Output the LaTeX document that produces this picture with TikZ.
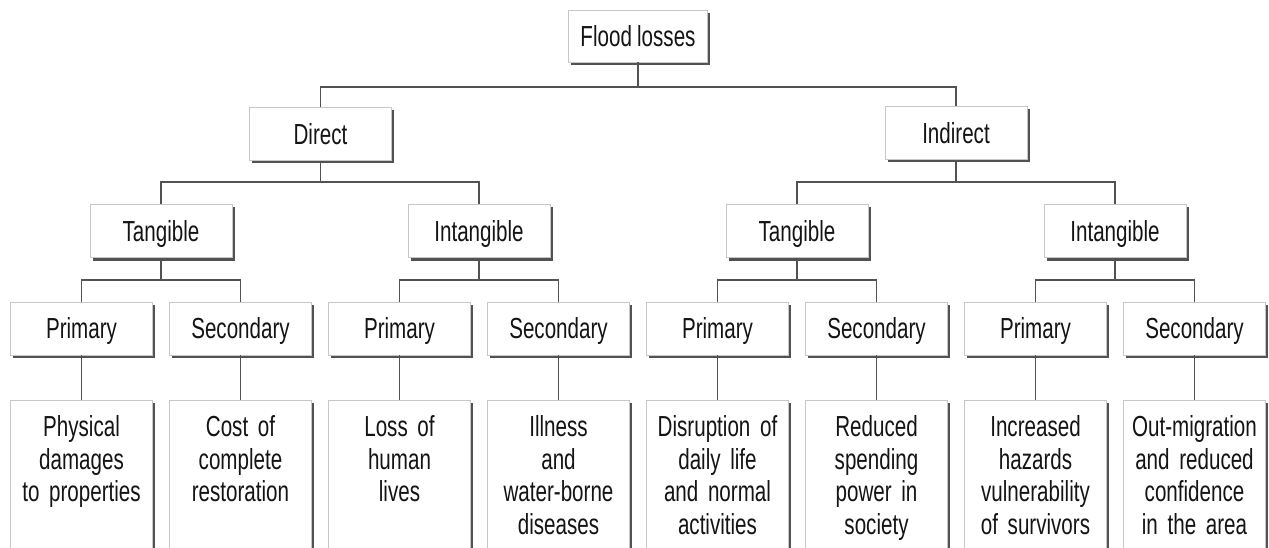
\documentclass[tikz,border=0pt]{standalone}
\usepackage{fontspec}
\setmainfont[FakeStretch=0.71, WordSpace=0.9]{Liberation Sans}
\usetikzlibrary{shadows}
\begin{document}
\begin{tikzpicture}[x=1pt,y=-1pt,
  box/.style={draw=black!22, line width=0.7pt, fill=white,
    drop shadow={shadow xshift=2.6pt, shadow yshift=-3pt, fill=black!68, opacity=1},
    font=\fontsize{29}{32.5}\selectfont, text=black!92},
  cat/.style={box, minimum width=142pt, minimum height=53pt, inner sep=0pt,
    text height=20.5pt, text depth=0pt},
  leaf/.style={box, anchor=north, text width=138pt, align=center, inner xsep=2pt,
    inner ysep=17pt, text height=19.5pt, text depth=150pt},
  link/.style={draw=black!68, line width=1.3pt}]
\clip (0,0) rectangle (1269,548);
\fill[white] (0,0) rectangle (1269,548);

% level 0
\node[cat, minimum width=139pt, minimum height=52pt] (top) at (638,36) {Flood losses};
% level 1
\node[cat] (direct) at (320.5,134) {Direct};
\node[cat] (indirect) at (956,133) {Indirect};
% level 2
\node[cat] (dt) at (161,231) {Tangible};
\node[cat] (di) at (479,231) {Intangible};
\node[cat] (it) at (797,231) {Tangible};
\node[cat] (ii) at (1115,231) {Intangible};
% level 3
\node[cat] (p1) at (81.5,328.5) {Primary};
\node[cat] (s1) at (240.5,328.5) {Secondary};
\node[cat] (p2) at (399.5,328.5) {Primary};
\node[cat] (s2) at (558.5,328.5) {Secondary};
\node[cat] (p3) at (717.5,328.5) {Primary};
\node[cat] (s3) at (876.5,328.5) {Secondary};
\node[cat] (p4) at (1035.5,328.5) {Primary};
\node[cat] (s4) at (1194.5,328.5) {Secondary};
% leaves
\node[leaf] (l1) at (81.5,400) {Physical\\damages\\to properties};
\node[leaf] (l2) at (240.5,400) {Cost of\\complete\\restoration};
\node[leaf] (l3) at (399.5,400) {Loss of\\human\\lives};
\node[leaf] (l4) at (558.5,400) {Illness\\and\\water-borne\\diseases};
\node[leaf] (l5) at (717.5,400) {Disruption of\\daily life\\and normal\\activities};
\node[leaf] (l6) at (876.5,400) {Reduced\\spending\\power in\\society};
\node[leaf] (l7) at (1035.5,400) {Increased\\hazards\\vulnerability\\of survivors};
\node[leaf] (l8) at (1194.5,400) {Out-migration\\and reduced\\confidence\\in the area};

% bars
\coordinate (b0) at (638,87);
\coordinate (b1) at (320.5,182);
\coordinate (b2) at (956,182);
\coordinate (b3) at (161,280);
\coordinate (b4) at (479,280);
\coordinate (b5) at (797,280);
\coordinate (b6) at (1115,280);

\draw[link] (top.south) -- (b0);
\draw[link] (direct.north) |- (b0) -| (indirect.north);
\draw[link] (direct.south) -- (b1);
\draw[link] (dt.north) |- (b1) -| (di.north);
\draw[link] (indirect.south) -- (b2);
\draw[link] (it.north) |- (b2) -| (ii.north);
\draw[link] (dt.south) -- (b3);
\draw[link] (p1.north) |- (b3) -| (s1.north);
\draw[link] (di.south) -- (b4);
\draw[link] (p2.north) |- (b4) -| (s2.north);
\draw[link] (it.south) -- (b5);
\draw[link] (p3.north) |- (b5) -| (s3.north);
\draw[link] (ii.south) -- (b6);
\draw[link] (p4.north) |- (b6) -| (s4.north);
\draw[link] (p1.south) -- (l1.north);
\draw[link] (s1.south) -- (l2.north);
\draw[link] (p2.south) -- (l3.north);
\draw[link] (s2.south) -- (l4.north);
\draw[link] (p3.south) -- (l5.north);
\draw[link] (s3.south) -- (l6.north);
\draw[link] (p4.south) -- (l7.north);
\draw[link] (s4.south) -- (l8.north);
\end{tikzpicture}
\end{document}
